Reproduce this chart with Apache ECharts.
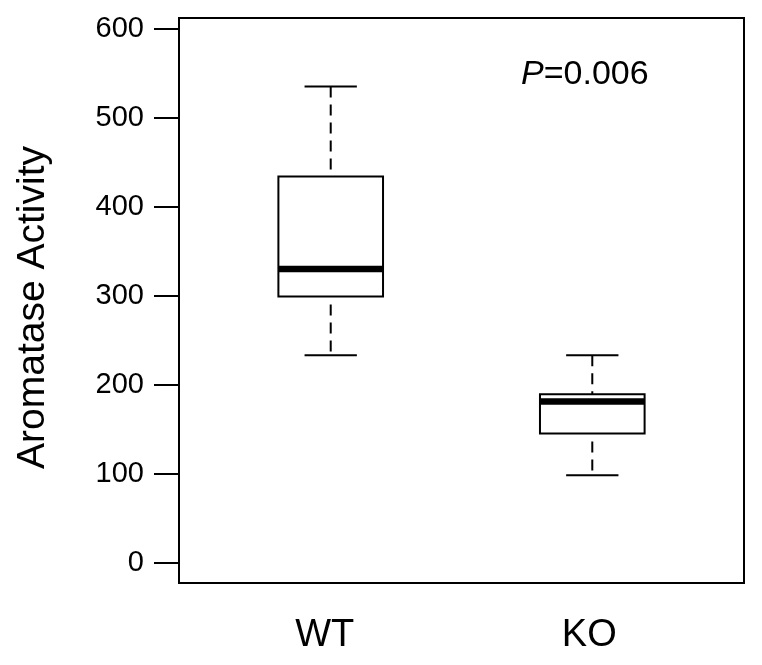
<!DOCTYPE html>
<html>
<head>
<meta charset="utf-8">
<script src="https://cdn.jsdelivr.net/npm/echarts@6/dist/echarts.min.js"></script>
<style>html,body{margin:0;padding:0;background:#fff;}#c{width:762px;height:665px;}</style>
</head>
<body>
<div id="c"></div>
<script>
var categories = ['WT', 'KO'];
var whiskerLow  = [233, 98];
var quartile1   = [299, 145];
var medians     = [330, 181];
var quartile3   = [434, 189];
var whiskerHigh = [535, 233];
var yTicks = [0, 100, 200, 300, 400, 500, 600];
var pLabel = '0.006';

var FONT = '"Liberation Sans", Arial, Helvetica, sans-serif';
var boxData = categories.map(function (c, i) {
  return [i + 1, whiskerLow[i], quartile1[i], medians[i], quartile3[i], whiskerHigh[i]];
});

var chart = echarts.init(document.getElementById('c'), null, {renderer: 'canvas'});
chart.setOption({
  backgroundColor: '#fff',
  animation: false,
  grid: {left: 179, top: 18, right: 18, bottom: 82, show: true, borderColor: '#000', borderWidth: 2, backgroundColor: 'transparent'},
  xAxis: {
    type: 'value', min: 0.42, max: 2.58,
    axisLine: {show: false}, axisTick: {show: false}, splitLine: {show: false},
    axisLabel: {
      customValues: [1, 2],
      formatter: function (v) { var i = Math.round(v) - 1; return '{c' + i + '|' + categories[i] + '}'; },
      color: '#000', fontSize: 38, fontFamily: FONT, margin: 34,
      rich: {
        c0: {fontSize: 38, fontFamily: FONT, color: '#000', padding: [0, 12, 0, 0]},
        c1: {fontSize: 38, fontFamily: FONT, color: '#000', padding: [0, 6, 0, 0]}
      }
    }
  },
  yAxis: {
    type: 'value', min: -23, max: 612,
    name: 'Aromatase Activity', nameLocation: 'middle', nameGap: 126,
    nameTextStyle: {color: '#000', fontSize: 39, fontFamily: FONT, padding: [0, 14, 0, 0]},
    axisLine: {show: false}, splitLine: {show: false},
    axisTick: {show: true, customValues: yTicks, length: 25, inside: false, lineStyle: {color: '#000', width: 2}},
    axisLabel: {customValues: yTicks, color: '#000', fontSize: 29, fontFamily: FONT, margin: 35}
  },
  series: [{
    type: 'custom',
    data: boxData,
    encode: {x: 0, y: [1, 2, 3, 4, 5]},
    renderItem: function (params, api) {
      var x = api.value(0);
      var bw = api.size([0.4, 0])[0];
      var cw = api.size([0.2, 0])[0];
      var pLow = api.coord([x, api.value(1)]);
      var pQ1 = api.coord([x, api.value(2)]);
      var pMed = api.coord([x, api.value(3)]);
      var pQ3 = api.coord([x, api.value(4)]);
      var pHigh = api.coord([x, api.value(5)]);
      var cx = pMed[0];
      var solid = {stroke: '#000', lineWidth: 2, fill: null};
      var dashed = {stroke: '#000', lineWidth: 2, lineDash: [11, 7], fill: null};
      return {
        type: 'group',
        children: [
          {type: 'line', shape: {x1: cx, y1: pHigh[1], x2: cx, y2: pQ3[1]}, style: dashed},
          {type: 'line', shape: {x1: cx, y1: pQ1[1] + 8, x2: cx, y2: pLow[1]}, style: dashed},
          {type: 'line', shape: {x1: cx - cw / 2, y1: pHigh[1], x2: cx + cw / 2, y2: pHigh[1]}, style: solid},
          {type: 'line', shape: {x1: cx - cw / 2, y1: pLow[1], x2: cx + cw / 2, y2: pLow[1]}, style: solid},
          {type: 'rect', shape: {x: cx - bw / 2, y: pQ3[1], width: bw, height: pQ1[1] - pQ3[1]}, style: {stroke: '#000', lineWidth: 2, fill: '#fff'}},
          {type: 'line', shape: {x1: cx - bw / 2, y1: pMed[1], x2: cx + bw / 2, y2: pMed[1]}, style: {stroke: '#000', lineWidth: 6.5}}
        ]
      };
    }
  }],
  graphic: [{
    type: 'text', left: 521, top: 58,
    style: {
      text: '{i|P}=' + pLabel,
      fill: '#000', font: '34px ' + FONT,
      rich: {i: {fontStyle: 'italic', fontSize: 34, fontFamily: FONT, fill: '#000'}}
    }
  }]
});
</script>
</body>
</html>
